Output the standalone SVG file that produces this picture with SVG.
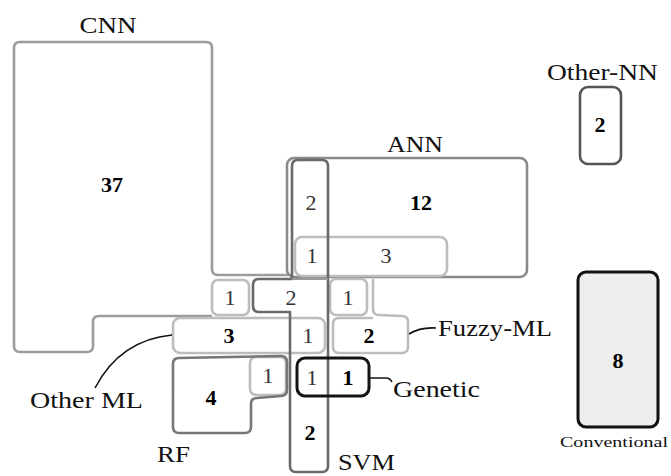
<svg xmlns="http://www.w3.org/2000/svg" width="671" height="476" viewBox="0 0 671 476">
<style>
.o{fill:none;stroke-width:2.6;stroke-linejoin:round}
.cnn{stroke:#9c9c9c}
.ann{stroke:#8a8a8a}
.fz{stroke:#bdbdbd}
.oml{stroke:#bdbdbd}
.svm{stroke:#6a6a6a}
.rf{stroke:#767676}
.gen{stroke:#141414;stroke-width:3}
.onn{stroke:#555}
.conv{stroke:#111;stroke-width:3;fill:#ededed}
.lbl{font-family:"Liberation Serif",serif;font-size:23px;fill:#111}
.n{font-family:"Liberation Serif",serif;font-size:22px;fill:#333;text-anchor:middle}
.b{font-weight:bold;fill:#000}
.ld{fill:none;stroke:#111;stroke-width:1.6}
</style>
<rect width="671" height="476" fill="#fff"/>
<g id="cnn">
<path class="o cnn" d="M288,275 L218,275 Q212,275 212,269 L212,48 Q212,42 206,42 L20,42 Q14,42 14,48 L14,346 Q14,352 20,352 L87,352 Q93,352 93,346 L93,322 Q93,316 99,316 L212,316"/>
<text class="lbl" x="108" y="33" text-anchor="middle" textLength="57" lengthAdjust="spacingAndGlyphs">CNN</text>
<text class="n b" x="112" y="192">37</text>
</g>
<g id="ann">
<rect class="o ann" x="287" y="158" width="240" height="119" rx="7"/>
<text class="lbl" x="415" y="152" text-anchor="middle" textLength="56" lengthAdjust="spacingAndGlyphs">ANN</text>
<text class="n b" x="421" y="210">12</text>
</g>
<g id="fuzzy-ml">
<rect class="o fz" x="295" y="237" width="152" height="39" rx="7"/>
<rect class="o fz" x="330" y="279" width="37" height="36" rx="6"/>
<path class="o fz" d="M373,279 L373,309 Q373,315 379,315 L402,316 Q408,316 408,322 L408,347 Q408,353 402,353 L339,353 Q333,353 333,347 L333,324 Q333,318 339,318 L373,318"/>
<text class="n" x="386" y="263">3</text>
<text class="n" x="348" y="305">1</text>
<text class="n b" x="369" y="343">2</text>
<text class="lbl" x="438" y="336" textLength="114" lengthAdjust="spacingAndGlyphs">Fuzzy-ML</text>
</g>
<g id="other-ml">
<rect class="o oml" x="212" y="280" width="37" height="35" rx="6"/>
<rect class="o oml" x="173" y="318" width="152" height="35" rx="7"/>
<rect class="o oml" x="250" y="357" width="36" height="38" rx="6"/>
<text class="n" x="230" y="305">1</text>
<text class="n b" x="229" y="343">3</text>
<text class="n" x="308" y="343">1</text>
<text class="n" x="268" y="383">1</text>
<text class="lbl" x="30" y="408" textLength="113" lengthAdjust="spacingAndGlyphs">Other ML</text>
</g>
<g id="svm">
<path class="o svm" d="M292,279 L292,166 Q292,160 298,160 L322,160 Q328,160 328,166 L328,466 Q328,472 322,472 L296,472 Q290,472 290,466 L290,312 L259,312 Q253,312 253,306 L253,285 Q253,279 259,279 Z"/>
<line class="o svm" x1="292" y1="279" x2="328" y2="279" style="stroke:#9a9a9a;stroke-width:2"/>
<text class="n" x="311" y="210">2</text>
<text class="n" x="312" y="263">1</text>
<text class="n" x="291" y="305">2</text>
<text class="n b" x="310" y="440">2</text>
<text class="lbl" x="338" y="470" textLength="57" lengthAdjust="spacingAndGlyphs">SVM</text>
</g>
<g id="rf">
<path class="o rf" d="M179,358 L281,356 Q287,356 287,362 L287,390 Q287,396 281,396 L257,398 Q251,398 251,404 L251,427 Q251,433 245,433 L179,433 Q173,433 173,427 L173,364 Q173,358 179,358 Z"/>
<text class="n b" x="211" y="405">4</text>
<text class="lbl" x="157" y="462" textLength="33" lengthAdjust="spacingAndGlyphs">RF</text>
</g>
<g id="genetic">
<rect class="o gen" x="297" y="358" width="72" height="38" rx="8"/>
<text class="n" x="312" y="385">1</text>
<text class="n b" x="348" y="385">1</text>
<text class="lbl" x="393" y="397" textLength="87" lengthAdjust="spacingAndGlyphs">Genetic</text>
</g>
<g id="other-nn">
<rect class="o onn" x="580" y="87" width="41" height="77" rx="8"/>
<text class="n b" x="600" y="132">2</text>
<text class="lbl" x="547" y="80" textLength="111" lengthAdjust="spacingAndGlyphs">Other-NN</text>
</g>
<g id="conventional">
<rect class="conv" x="578" y="272" width="80" height="155" rx="8"/>
<text class="n b" x="618" y="368">8</text>
<text class="lbl" x="560" y="447" style="font-size:15px" textLength="108" lengthAdjust="spacingAndGlyphs">Conventional</text>
</g>
<g id="connectors">
<path class="ld" d="M172,335 Q120,340 95,388"/>
<path class="ld" d="M409,334 Q420,327 436,328"/>
<path class="ld" d="M370,378 L386,378 Q390,378 392,382"/>
</g>
</svg>
